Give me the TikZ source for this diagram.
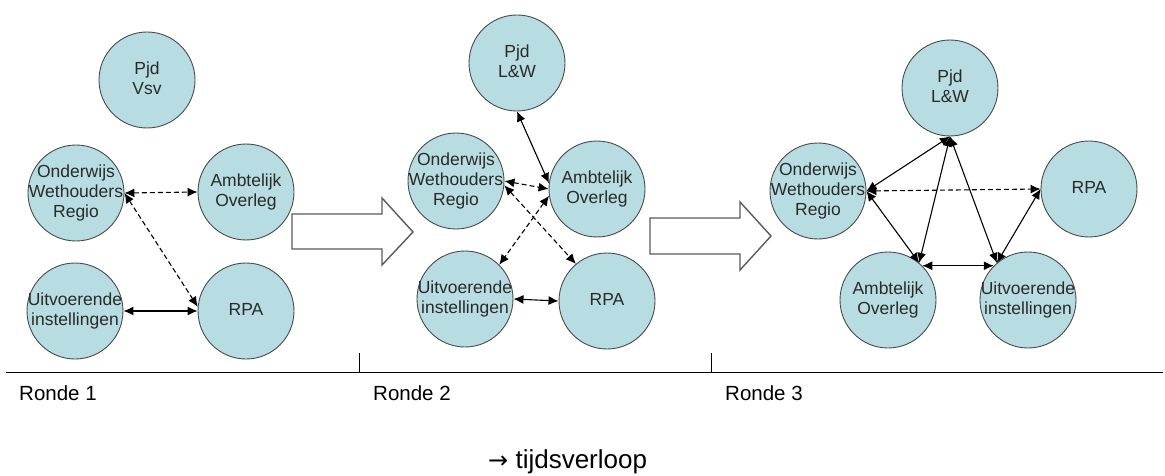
\documentclass[tikz,border=0pt]{standalone}
\usepackage{fontspec}
\setmainfont{Liberation Sans}
\newfontfamily\symfont{DejaVu Sans}
\usetikzlibrary{arrows.meta}
\definecolor{bubfill}{HTML}{B7DDE2}
\definecolor{bubline}{HTML}{4A4A4A}
\definecolor{bubtext}{HTML}{2A2A2A}
\definecolor{bigline}{HTML}{5A5A5A}
\newcommand{\bubtxt}[1]{\smash{\makebox[0pt]{\raisebox{-5pt}{\begin{tabular}{@{}c@{}}#1\end{tabular}}}}}
\begin{document}
\begin{tikzpicture}[x=1pt,y=-1pt,
  bub/.style={circle,draw=bubline,fill=bubfill,line width=0.9pt,minimum size=96pt,inner sep=0pt,text=bubtext,font=\fontsize{17.5}{20}\selectfont},
  link/.style={{Latex[length=10pt,width=9pt]}-{Latex[length=10pt,width=9pt]},line width=1.1pt,black},
  dlink/.style={link,dash pattern=on 5pt off 3pt},
  bigarrow/.style={draw=bigline,fill=white,line width=1.4pt,line join=miter},
  ronde/.style={anchor=base west,inner sep=0pt,font=\fontsize{20.5}{24}\selectfont},
  axis/.style={line width=1.3pt,black},
  ]
\useasboundingbox (0,0) rectangle (1165,476);

% Ronde 1
\node[bub] (pjd1) at (147,80) {\bubtxt{Pjd\\Vsv}};
\node[bub] (owr1) at (76,193) {\bubtxt{Onderwijs\\Wethouders\\Regio}};
\node[bub] (ao1) at (246,192) {\bubtxt{Ambtelijk\\Overleg}};
\node[bub] (ui1) at (75,311) {\bubtxt{Uitvoerende\\instellingen}};
\node[bub] (rpa1) at (246,311) {\bubtxt{RPA}};
\draw[dlink] (owr1.east) -- (ao1.west);
\draw[dlink] (owr1.east) -- (rpa1.175);
\draw[link] (ui1.east) -- (rpa1.west);

% big arrow 1
\draw[bigarrow] (292,214) -- (382,214) -- (382,198) -- (413,232) -- (382,265) -- (382,249) -- (292,249) -- cycle;

% Ronde 2
\node[bub] (pjd2) at (517,63) {\bubtxt{Pjd\\L\&W}};
\node[bub] (owr2) at (456,181) {\bubtxt{Onderwijs\\Wethouders\\Regio}};
\node[bub] (ao2) at (597,189) {\bubtxt{Ambtelijk\\Overleg}};
\node[bub] (ui2) at (465,299) {\bubtxt{Uitvoerende\\instellingen}};
\node[bub] (rpa2) at (607,301) {\bubtxt{RPA}};
\draw[link] (pjd2.south) -- (ao2.173);
\draw[dlink] (owr2.east) -- (ao2.180);
\draw[dlink] (ao2.188) -- (ui2.45);
\draw[dlink] (owr2.355) -- (rpa2.130);
\draw[link] (ui2.east) -- (rpa2.west);

% big arrow 2
\draw[bigarrow] (650,218) -- (740,218) -- (740,202) -- (771,236) -- (740,270) -- (740,254) -- (650,254) -- cycle;

% Ronde 3
\node[bub] (pjd3) at (950,88) {\bubtxt{Pjd\\L\&W}};
\node[bub] (owr3) at (818,191) {\bubtxt{Onderwijs\\Wethouders\\Regio}};
\node[bub] (rpa3) at (1089,189) {\bubtxt{RPA}};
\node[bub] (ao3) at (888,300) {\bubtxt{Ambtelijk\\Overleg}};
\node[bub] (ui3) at (1028,300) {\bubtxt{Uitvoerende\\instellingen}};
\draw[link] (owr3.east) -- (pjd3.south);
\draw[dlink] (owr3.east) -- (rpa3.west);
\draw[link] (owr3.east) -- (ao3.50);
\draw[link] (pjd3.south) -- (ao3.50);
\draw[link] (pjd3.south) -- (ui3.130);
\draw[link] (ao3.45) -- (ui3.135);
\draw[link] (rpa3.west) -- (ui3.130);

% time axis
\coordinate (ax0) at (6,372.5);
\coordinate (ax1) at (1163,372.5);
\coordinate (t1) at (359,372.5);
\coordinate (t2) at (711,372.5);
\draw[axis] (ax0) -- (ax1);
\draw[line width=1pt] (t1) -- ++(0,-20);
\draw[line width=1pt] (t2) -- ++(0,-20);
\node[ronde] (r1) at (19,400) {Ronde 1};
\node[ronde] (r2) at (373,400) {Ronde 2};
\node[ronde] (r3) at (725,400) {Ronde 3};
\node[anchor=base west,inner sep=0pt,font=\fontsize{26}{30}\selectfont] (tv) at (488,468) {{\symfont\fontsize{24}{30}\selectfont →} tijdsverloop};
\end{tikzpicture}
\end{document}
